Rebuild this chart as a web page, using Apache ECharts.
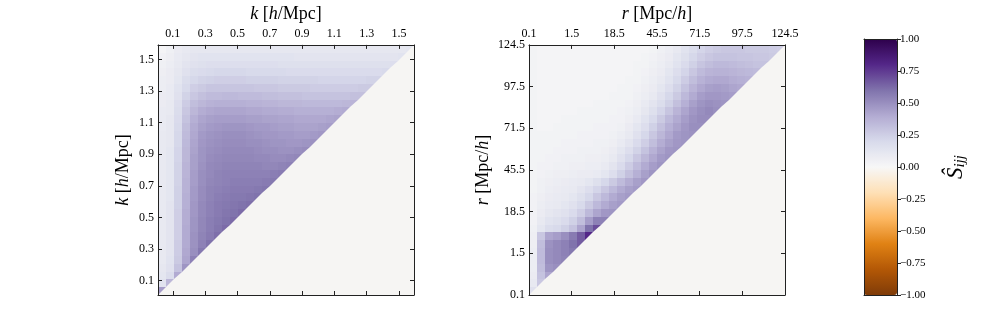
<!DOCTYPE html>
<html><head><meta charset="utf-8">
<script src="https://cdn.jsdelivr.net/npm/echarts@6/dist/echarts.min.js"></script>
<style>html,body{margin:0;padding:0;background:#fff}#c{width:996px;height:332px}</style>
</head><body><div id="c"></div>
<script>
// ---- tick labels ----
const kTicks = [0.1, 0.3, 0.5, 0.7, 0.9, 1.1, 1.3, 1.5];
const rTickLabels = ['0.1', '1.5', '18.5', '45.5', '71.5', '97.5', '124.5'];
const PuOr = ['#7f3b08','#b35806','#e08214','#fdb863','#fee0b6','#f7f7f7','#d8daeb','#b2abd2','#8073ac','#542788','#2d004b'];

// ---- left panel: S_ijj in k-space, row j (from bottom), columns i = 0..j ----
const kRows = [
[0.45],
[0.14,0.35],
[0.12,0.18,0.40],
[0.11,0.15,0.30,0.48],
[0.10,0.14,0.27,0.42,0.55],
[0.10,0.13,0.26,0.41,0.50,0.58],
[0.10,0.13,0.26,0.40,0.49,0.55,0.60],
[0.10,0.13,0.25,0.40,0.49,0.54,0.57,0.61],
[0.10,0.13,0.25,0.40,0.48,0.53,0.56,0.59,0.62],
[0.10,0.13,0.25,0.39,0.48,0.53,0.56,0.58,0.60,0.62],
[0.10,0.13,0.25,0.39,0.47,0.52,0.55,0.57,0.59,0.60,0.62],
[0.10,0.13,0.24,0.38,0.47,0.52,0.55,0.57,0.58,0.59,0.60,0.61],
[0.10,0.12,0.24,0.38,0.46,0.51,0.54,0.56,0.57,0.58,0.58,0.59,0.60],
[0.10,0.12,0.24,0.37,0.46,0.51,0.54,0.55,0.56,0.57,0.57,0.57,0.58,0.59],
[0.10,0.12,0.23,0.37,0.45,0.50,0.53,0.54,0.55,0.56,0.56,0.56,0.56,0.57,0.58],
[0.10,0.12,0.23,0.36,0.45,0.50,0.52,0.54,0.55,0.55,0.55,0.55,0.55,0.55,0.56,0.57],
[0.10,0.12,0.23,0.36,0.44,0.49,0.52,0.53,0.54,0.54,0.54,0.54,0.54,0.53,0.53,0.54,0.55],
[0.10,0.12,0.22,0.35,0.44,0.48,0.51,0.52,0.53,0.53,0.53,0.53,0.52,0.52,0.51,0.51,0.52,0.53],
[0.10,0.12,0.22,0.35,0.43,0.48,0.50,0.51,0.52,0.52,0.52,0.52,0.51,0.50,0.50,0.49,0.49,0.50,0.51],
[0.10,0.11,0.21,0.34,0.42,0.47,0.49,0.50,0.51,0.51,0.51,0.50,0.50,0.49,0.48,0.48,0.47,0.47,0.48,0.49],
[0.10,0.11,0.21,0.33,0.41,0.46,0.48,0.49,0.50,0.50,0.50,0.49,0.48,0.47,0.47,0.46,0.46,0.45,0.45,0.46,0.47],
[0.09,0.11,0.20,0.32,0.40,0.44,0.46,0.47,0.48,0.48,0.48,0.47,0.46,0.46,0.45,0.44,0.44,0.43,0.43,0.43,0.44,0.45],
[0.09,0.11,0.19,0.30,0.38,0.42,0.44,0.45,0.45,0.45,0.45,0.44,0.44,0.43,0.43,0.42,0.42,0.41,0.41,0.41,0.41,0.42,0.43],
[0.09,0.10,0.18,0.28,0.35,0.39,0.41,0.42,0.42,0.42,0.42,0.41,0.41,0.40,0.40,0.39,0.39,0.38,0.38,0.38,0.38,0.38,0.39,0.40],
[0.08,0.10,0.17,0.26,0.32,0.35,0.37,0.38,0.38,0.38,0.38,0.37,0.37,0.36,0.36,0.35,0.35,0.35,0.34,0.34,0.34,0.34,0.34,0.35,0.36],
[0.08,0.09,0.15,0.23,0.28,0.31,0.33,0.33,0.34,0.34,0.33,0.33,0.33,0.32,0.32,0.31,0.31,0.31,0.30,0.30,0.30,0.30,0.30,0.30,0.31,0.31],
[0.07,0.09,0.14,0.20,0.25,0.27,0.29,0.29,0.29,0.29,0.29,0.29,0.28,0.28,0.28,0.27,0.27,0.27,0.27,0.26,0.26,0.26,0.26,0.26,0.26,0.27,0.27],
[0.07,0.08,0.12,0.18,0.21,0.23,0.24,0.25,0.25,0.25,0.25,0.24,0.24,0.24,0.24,0.23,0.23,0.23,0.23,0.23,0.22,0.22,0.22,0.22,0.22,0.22,0.23,0.23],
[0.06,0.08,0.11,0.15,0.18,0.19,0.20,0.21,0.21,0.21,0.21,0.20,0.20,0.20,0.20,0.20,0.19,0.19,0.19,0.19,0.19,0.19,0.19,0.19,0.19,0.19,0.19,0.19,0.20],
[0.05,0.07,0.10,0.13,0.15,0.16,0.17,0.17,0.17,0.17,0.17,0.17,0.17,0.17,0.17,0.16,0.16,0.16,0.16,0.16,0.16,0.16,0.16,0.16,0.16,0.16,0.16,0.16,0.16,0.17],
[0.04,0.06,0.09,0.11,0.13,0.14,0.14,0.14,0.14,0.14,0.14,0.14,0.14,0.14,0.14,0.14,0.14,0.13,0.13,0.13,0.13,0.13,0.13,0.13,0.13,0.13,0.13,0.13,0.13,0.13,0.14],
[0.02,0.05,0.08,0.10,0.11,0.11,0.11,0.11,0.11,0.11,0.11,0.11,0.11,0.11,0.11,0.11,0.11,0.11,0.11,0.11,0.11,0.11,0.11,0.11,0.11,0.11,0.11,0.11,0.11,0.11,0.11,0.12]
];

// ---- right panel: S_ijj in r-space, row j (from bottom), columns i = 0..j ----
const rRows = [
[0.15],
[0.10,0.28],
[0.08,0.30,0.42],
[0.07,0.32,0.48,0.50],
[0.07,0.33,0.50,0.52,0.54],
[0.07,0.33,0.50,0.52,0.55,0.58],
[0.06,0.32,0.49,0.52,0.55,0.60,0.66],
[0.06,0.28,0.42,0.45,0.50,0.57,0.66,0.80],
[0.05,0.12,0.18,0.20,0.24,0.30,0.42,0.60,0.70],
[0.04,0.10,0.14,0.16,0.19,0.24,0.32,0.45,0.55,0.55],
[0.04,0.08,0.11,0.13,0.15,0.19,0.25,0.34,0.42,0.47,0.48],
[0.04,0.07,0.09,0.10,0.12,0.15,0.20,0.27,0.34,0.40,0.44,0.46],
[0.04,0.06,0.08,0.09,0.10,0.12,0.16,0.21,0.28,0.34,0.40,0.44,0.46],
[0.03,0.05,0.07,0.08,0.09,0.10,0.13,0.17,0.22,0.28,0.34,0.40,0.44,0.46],
[0.03,0.05,0.06,0.07,0.08,0.09,0.10,0.12,0.16,0.21,0.27,0.33,0.39,0.44,0.47],
[0.03,0.04,0.05,0.06,0.06,0.07,0.08,0.08,0.09,0.12,0.17,0.24,0.31,0.38,0.44,0.48],
[0.03,0.04,0.04,0.05,0.05,0.06,0.06,0.07,0.07,0.09,0.13,0.19,0.26,0.33,0.40,0.45,0.48],
[0.03,0.03,0.04,0.04,0.05,0.05,0.05,0.06,0.06,0.07,0.10,0.15,0.21,0.28,0.35,0.41,0.46,0.48],
[0.03,0.03,0.03,0.04,0.04,0.04,0.05,0.05,0.05,0.06,0.08,0.12,0.17,0.23,0.30,0.37,0.43,0.47,0.48],
[0.03,0.03,0.03,0.03,0.04,0.04,0.04,0.04,0.05,0.05,0.06,0.09,0.13,0.19,0.25,0.32,0.39,0.44,0.47,0.48],
[0.03,0.03,0.03,0.03,0.03,0.03,0.04,0.04,0.04,0.04,0.05,0.07,0.10,0.15,0.21,0.28,0.35,0.41,0.46,0.48,0.49],
[0.03,0.02,0.02,0.03,0.03,0.03,0.03,0.03,0.04,0.04,0.04,0.05,0.08,0.12,0.17,0.24,0.31,0.38,0.43,0.47,0.50,0.50],
[0.03,0.02,0.02,0.02,0.03,0.03,0.03,0.03,0.03,0.03,0.04,0.04,0.06,0.09,0.14,0.20,0.27,0.34,0.40,0.45,0.49,0.51,0.51],
[0.03,0.02,0.02,0.02,0.02,0.02,0.03,0.03,0.03,0.03,0.03,0.04,0.05,0.07,0.11,0.16,0.22,0.29,0.36,0.42,0.47,0.50,0.52,0.50],
[0.03,0.02,0.02,0.02,0.02,0.02,0.02,0.02,0.03,0.03,0.03,0.03,0.04,0.06,0.09,0.13,0.18,0.24,0.31,0.38,0.44,0.48,0.50,0.49,0.48],
[0.03,0.02,0.02,0.02,0.02,0.02,0.02,0.02,0.02,0.02,0.03,0.03,0.03,0.05,0.07,0.10,0.15,0.21,0.27,0.34,0.40,0.45,0.47,0.47,0.46,0.45],
[0.03,0.02,0.02,0.02,0.02,0.02,0.02,0.02,0.02,0.02,0.02,0.03,0.03,0.04,0.06,0.08,0.12,0.17,0.23,0.30,0.36,0.41,0.44,0.45,0.44,0.42,0.41],
[0.03,0.02,0.02,0.02,0.02,0.02,0.02,0.02,0.02,0.02,0.02,0.02,0.03,0.03,0.05,0.07,0.10,0.14,0.20,0.26,0.32,0.37,0.40,0.41,0.41,0.39,0.38,0.37],
[0.03,0.02,0.02,0.02,0.02,0.02,0.02,0.02,0.02,0.02,0.02,0.02,0.02,0.03,0.04,0.06,0.08,0.12,0.17,0.22,0.28,0.33,0.36,0.37,0.37,0.36,0.35,0.34,0.33],
[0.03,0.02,0.02,0.02,0.02,0.02,0.02,0.02,0.02,0.02,0.02,0.02,0.02,0.03,0.03,0.05,0.07,0.10,0.14,0.19,0.24,0.29,0.32,0.34,0.34,0.33,0.32,0.31,0.30,0.30],
[0.03,0.02,0.02,0.02,0.02,0.02,0.02,0.02,0.02,0.02,0.02,0.02,0.02,0.02,0.03,0.04,0.06,0.08,0.12,0.16,0.21,0.25,0.28,0.30,0.30,0.30,0.29,0.29,0.28,0.28,0.27],
[0.03,0.02,0.02,0.02,0.02,0.02,0.02,0.02,0.02,0.02,0.02,0.02,0.02,0.02,0.02,0.03,0.05,0.07,0.10,0.14,0.18,0.22,0.25,0.27,0.28,0.28,0.28,0.27,0.27,0.27,0.26,0.25]
];

// ---- build ----
function toCells(rows) {
  const out = [];
  rows.forEach((row, j) => row.forEach((v, i) => out.push([i, j, v])));
  return out;
}
const kCats = kRows.map((_, i) => String(i));
const rCats = rRows.map((_, i) => String(i));

// each matrix cell: full square off the diagonal, upper-left half on the diagonal
function renderCell(params, api) {
  const i = api.value(0), j = api.value(1);
  const c = api.coord([i, j]);
  const s = api.size([1, 1]);
  const xl = Math.round(c[0] - s[0] / 2), xr = Math.round(c[0] + s[0] / 2);
  const yt = Math.round(c[1] - s[1] / 2), yb = Math.round(c[1] + s[1] / 2);
  const style = { fill: api.visual('color') };
  if (i === j) {
    return { type: 'polygon', shape: { points: [[xl, yb], [xl, yt], [xr, yt]] }, style: style };
  }
  return { type: 'rect', shape: { x: xl, y: yt, width: xr - xl, height: yb - yt }, style: style };
}

const FONT = "'Liberation Serif','DejaVu Serif',serif";
const LINE = '#222';
const tickLab = { fontFamily: FONT, fontSize: 12, color: '#000' };
const nameStyle = (size) => ({
  fontFamily: FONT, fontSize: size, color: '#000',
  rich: { i: { fontFamily: FONT, fontSize: size, fontStyle: 'italic', color: '#000' },
          n: { fontFamily: FONT, fontSize: size, color: '#000' } }
});

function frameAxis(base) {
  return Object.assign({
    type: 'value', splitLine: { show: false },
    axisLine: { show: true, onZero: false, lineStyle: { color: LINE, width: 1 } },
    axisTick: { show: true, inside: true, length: 4, lineStyle: { color: LINE, width: 1 } },
    z: 10
  }, base);
}

const kAxisOpts = { min: 0.008, max: 1.593 };
const kName = '{i|k}{n| [}{i|h}{n|/Mpc]}';
const rName = '{i|r}{n| [Mpc/}{i|h}{n|]}';

const option = {
  animation: false,
  backgroundColor: '#fff',
  grid: [
    { left: 158, top: 39, width: 256, height: 256, show: true, backgroundColor: '#f6f5f3', borderWidth: 0 },
    { left: 529, top: 39, width: 256, height: 256, show: true, backgroundColor: '#f6f5f3', borderWidth: 0 },
    { left: 864, top: 39, width: 33, height: 256, show: false }
  ],
  xAxis: [
    { type: 'category', gridIndex: 0, data: kCats, show: false },
    frameAxis(Object.assign({ gridIndex: 0, position: 'top',
      axisTick: { show: true, inside: true, length: 4, customValues: kTicks, lineStyle: { color: LINE } },
      axisLabel: Object.assign({ customValues: kTicks, margin: 5, formatter: v => v.toFixed(1) }, tickLab),
      name: kName, nameLocation: 'middle', nameGap: 19, nameTextStyle: nameStyle(18) }, kAxisOpts)),
    frameAxis(Object.assign({ gridIndex: 0, position: 'bottom',
      axisTick: { show: true, inside: true, length: 4, customValues: kTicks, lineStyle: { color: LINE } },
      axisLabel: { show: false } }, kAxisOpts)),
    { type: 'category', gridIndex: 1, data: rCats, show: false },
    frameAxis({ gridIndex: 1, position: 'top', min: 0, max: 6, interval: 1,
      axisLabel: Object.assign({ margin: 5, formatter: v => rTickLabels[Math.round(v)] }, tickLab),
      name: rName, nameLocation: 'middle', nameGap: 19, nameTextStyle: nameStyle(18) }),
    frameAxis({ gridIndex: 1, position: 'bottom', min: 0, max: 6, interval: 1, axisLabel: { show: false } }),
    frameAxis({ gridIndex: 2, position: 'top', min: 0, max: 1, axisTick: { show: false }, axisLabel: { show: false } }),
    frameAxis({ gridIndex: 2, position: 'bottom', min: 0, max: 1, axisTick: { show: false }, axisLabel: { show: false } })
  ],
  yAxis: [
    { type: 'category', gridIndex: 0, data: kCats, show: false },
    frameAxis(Object.assign({ gridIndex: 0, position: 'left',
      axisTick: { show: true, inside: true, length: 4, customValues: kTicks, lineStyle: { color: LINE } },
      axisLabel: Object.assign({ customValues: kTicks, margin: 4, formatter: v => v.toFixed(1) }, tickLab),
      name: kName, nameLocation: 'middle', nameGap: 26, nameRotate: 90, nameTextStyle: nameStyle(18) }, kAxisOpts)),
    frameAxis(Object.assign({ gridIndex: 0, position: 'right',
      axisTick: { show: true, inside: true, length: 4, customValues: kTicks, lineStyle: { color: LINE } },
      axisLabel: { show: false } }, kAxisOpts)),
    { type: 'category', gridIndex: 1, data: rCats, show: false },
    frameAxis({ gridIndex: 1, position: 'left', min: 0, max: 6, interval: 1,
      axisLabel: Object.assign({ margin: 4, formatter: v => rTickLabels[Math.round(v)] }, tickLab),
      name: rName, nameLocation: 'middle', nameGap: 37, nameRotate: 90, nameTextStyle: nameStyle(18) }),
    frameAxis({ gridIndex: 1, position: 'right', min: 0, max: 6, interval: 1, axisLabel: { show: false } }),
    frameAxis({ gridIndex: 2, position: 'right', min: -1, max: 1, interval: 0.25,
      axisTick: { show: true, inside: false, length: 4, lineStyle: { color: LINE } },
      axisLabel: { fontFamily: FONT, fontSize: 11, color: '#000', margin: 3,
        formatter: v => (v < 0 ? '\u2212' : '') + Math.abs(v).toFixed(2) },
      name: '{s|\u015C}{b|ijj}', nameLocation: 'middle', nameGap: 46, nameRotate: 90,
      nameTextStyle: { fontFamily: FONT, color: '#000',
        rich: { s: { fontFamily: FONT, fontSize: 23, fontStyle: 'italic', color: '#000' },
                b: { fontFamily: FONT, fontSize: 15, fontStyle: 'italic', color: '#000', padding: [10, 0, 0, 0] } } } }),
    frameAxis({ gridIndex: 2, position: 'left', min: -1, max: 1, axisTick: { show: false }, axisLabel: { show: false } })
  ],
  visualMap: {
    type: 'continuous', min: -1, max: 1, dimension: 2, seriesIndex: [0, 1],
    calculable: false, hoverLink: false, show: true,
    left: 864, top: 39, padding: 0, itemWidth: 33, itemHeight: 256, text: null,
    inRange: { color: PuOr }
  },
  series: [
    { type: 'custom', xAxisIndex: 0, yAxisIndex: 0, data: toCells(kRows), encode: { x: 0, y: 1 },
      renderItem: renderCell, emphasis: { disabled: true }, silent: true },
    { type: 'custom', xAxisIndex: 3, yAxisIndex: 3, data: toCells(rRows), encode: { x: 0, y: 1 },
      renderItem: renderCell, emphasis: { disabled: true }, silent: true }
  ]
};
const chart = echarts.init(document.getElementById('c'), null, { renderer: 'canvas' });
chart.setOption(option);
</script>
</body></html>
